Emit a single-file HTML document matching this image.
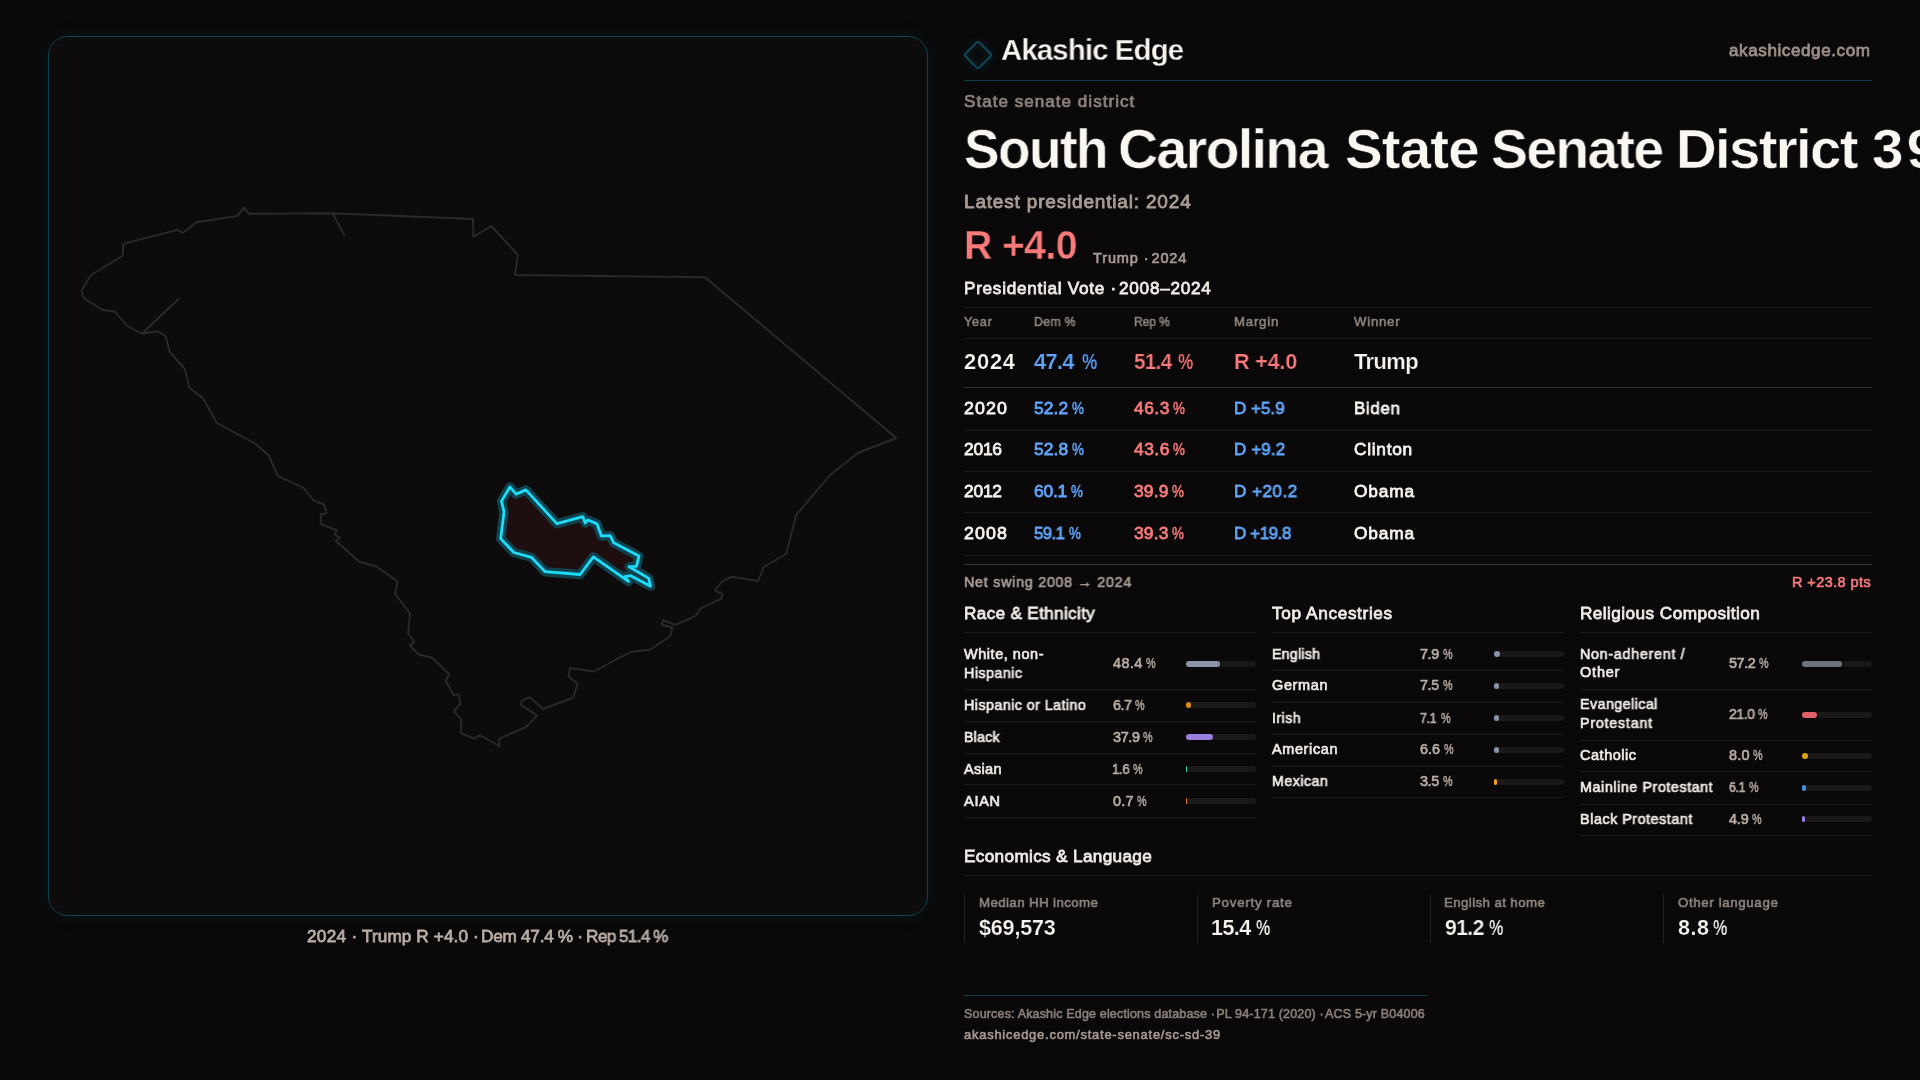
<!DOCTYPE html>
<html lang="en"><head><meta charset="utf-8"><title>South Carolina State Senate District 39 — Akashic Edge</title>
<style>
html,body{margin:0;padding:0;background:#0a0809;}
body{width:1920px;height:1080px;position:relative;overflow:hidden;font-family:"Liberation Sans", sans-serif;color:#f7f3ee;-webkit-font-smoothing:antialiased;}
.t{position:absolute;white-space:nowrap;line-height:1;margin:0;padding:0;transform-origin:0 0;will-change:transform;}
.l{position:absolute;}
.tr{position:absolute;width:70px;height:6px;border-radius:3px;background:#1b1819;}
.tr i{display:block;height:6px;border-radius:3px;}
#map{position:absolute;left:48px;top:36px;width:878px;height:878px;border:1px solid #0f4350;border-radius:20px;background:#0d0b0c;box-shadow:0 0 20px rgba(34,211,238,.085);}
#mapsvg{position:absolute;left:0;top:0;}
#logo{position:absolute;left:963.6px;top:40.7px;width:28px;height:28px;}
</style></head><body>
<div id="map"></div>
<svg id="mapsvg" width="960" height="960" viewBox="0 0 960 960">
<polygon points="244.5,207.5 248.8,213.8 332.5,213.2 473.0,219.0 473.5,236.8 491.5,226.0 517.8,255.0 515.0,275.0 705.0,277.2 896.2,438.0 858.0,453.0 830.0,475.0 796.2,515.0 786.2,553.8 763.8,567.0 758.0,581.0 731.2,576.8 722.0,581.5 715.0,590.5 722.5,594.2 721.2,598.8 701.2,608.0 695.8,615.8 675.5,624.8 663.0,620.0 661.5,624.8 672.3,627.3 670.5,636.0 650.3,649.5 630.5,652.0 593.7,671.5 570.0,668.0 568.5,676.6 577.5,683.4 573.3,697.7 543.1,709.0 529.8,697.2 521.9,700.6 520.6,704.8 537.1,715.4 526.2,726.9 499.1,738.8 499.4,746.2 479.8,735.0 474.0,738.5 460.9,733.1 461.2,719.4 453.8,711.0 460.5,703.8 458.6,694.4 453.5,695.0 445.7,680.6 449.2,674.2 432.5,658.0 418.8,654.5 410.0,645.5 414.2,642.0 408.0,633.0 410.0,613.8 395.0,593.8 397.8,581.5 376.2,566.5 358.8,561.5 335.8,540.8 340.0,538.0 334.5,534.0 336.8,530.5 320.8,524.0 320.8,514.5 326.8,513.0 323.8,504.5 313.8,500.5 303.2,487.5 278.0,476.2 268.8,455.5 255.8,444.0 217.0,423.0 202.8,398.0 189.5,388.0 184.8,369.0 169.5,351.5 165.8,336.5 158.0,331.2 142.0,333.5 127.0,326.0 114.8,311.5 102.5,310.0 83.5,298.0 81.5,290.5 90.5,275.5 122.8,255.5 123.2,243.8 177.5,229.8 182.8,233.0 196.5,222.2 237.0,216.0" fill="none" stroke="#2d292a" stroke-width="1.9" stroke-linejoin="round"/>
<polyline points="332.5,213.2 344.5,235.2" fill="none" stroke="#2d292a" stroke-width="1.9" stroke-linecap="round"/>
<polyline points="142.0,333.5 178.2,299.2" fill="none" stroke="#2d292a" stroke-width="1.9" stroke-linecap="round"/>
<polygon points="509.9,486.9 516.1,494.1 525.9,489.9 556.9,523.6 582.8,516.7 585.2,523.0 587.9,520.0 597.0,523.9 601.5,536.0 610.2,535.6 613.8,542.8 638.9,556.1 636.5,566.3 629.2,566.7 648.7,578.4 650.6,586.2 630.7,575.7 624.9,576.6 628.5,581.4 593.4,556.9 580.1,574.5 545.2,571.7 531.4,557.3 513.9,552.5 500.7,538.6 504.0,512.1 501.5,501.1" fill="#1f0e10" stroke="#10434e" stroke-width="9.4" stroke-linejoin="round"/>
<polygon points="509.9,486.9 516.1,494.1 525.9,489.9 556.9,523.6 582.8,516.7 585.2,523.0 587.9,520.0 597.0,523.9 601.5,536.0 610.2,535.6 613.8,542.8 638.9,556.1 636.5,566.3 629.2,566.7 648.7,578.4 650.6,586.2 630.7,575.7 624.9,576.6 628.5,581.4 593.4,556.9 580.1,574.5 545.2,571.7 531.4,557.3 513.9,552.5 500.7,538.6 504.0,512.1 501.5,501.1" fill="none" stroke="#1edcfb" stroke-width="2.8" stroke-linejoin="round"/>
</svg>
<svg id="logo" viewBox="0 0 28 28" style="overflow:visible;filter:drop-shadow(0 0 4px rgba(34,211,238,.25))"><rect x="4.2" y="4.2" width="19.6" height="19.6" rx="2.5" transform="rotate(45 14 14)" fill="none" stroke="#0e4a57" stroke-width="2"/></svg>
<div class="l" style="left:964px;top:80px;width:908px;height:1px;background:#0e3f4b"></div>
<div class="l" style="left:964px;top:307px;width:908px;height:1px;background:#1d1a1b"></div>
<div class="l" style="left:964px;top:338px;width:908px;height:1px;background:#1d1a1b"></div>
<div class="l" style="left:964px;top:387px;width:908px;height:1px;background:#322e2f"></div>
<div class="l" style="left:964px;top:430px;width:908px;height:1px;background:#1d1a1b"></div>
<div class="l" style="left:964px;top:471px;width:908px;height:1px;background:#1d1a1b"></div>
<div class="l" style="left:964px;top:512px;width:908px;height:1px;background:#1d1a1b"></div>
<div class="l" style="left:964px;top:555px;width:908px;height:1px;background:#1d1a1b"></div>
<div class="l" style="left:964px;top:564px;width:908px;height:1px;background:#3a3637"></div>
<div class="l" style="left:964px;top:632px;width:292px;height:1px;background:#1d1a1b"></div>
<div class="l" style="left:1272px;top:632px;width:292px;height:1px;background:#1d1a1b"></div>
<div class="l" style="left:1580px;top:632px;width:292px;height:1px;background:#1d1a1b"></div>
<div class="l" style="left:964px;top:689px;width:292px;height:1px;background:#1d1a1b"></div>
<div class="l" style="left:964px;top:721px;width:292px;height:1px;background:#1d1a1b"></div>
<div class="l" style="left:964px;top:753px;width:292px;height:1px;background:#1d1a1b"></div>
<div class="l" style="left:964px;top:784px;width:292px;height:1px;background:#1d1a1b"></div>
<div class="l" style="left:964px;top:817px;width:292px;height:1px;background:#1d1a1b"></div>
<div class="l" style="left:1272px;top:670px;width:292px;height:1px;background:#1d1a1b"></div>
<div class="l" style="left:1272px;top:702px;width:292px;height:1px;background:#1d1a1b"></div>
<div class="l" style="left:1272px;top:734px;width:292px;height:1px;background:#1d1a1b"></div>
<div class="l" style="left:1272px;top:766px;width:292px;height:1px;background:#1d1a1b"></div>
<div class="l" style="left:1272px;top:797px;width:292px;height:1px;background:#1d1a1b"></div>
<div class="l" style="left:1580px;top:689px;width:292px;height:1px;background:#1d1a1b"></div>
<div class="l" style="left:1580px;top:740px;width:292px;height:1px;background:#1d1a1b"></div>
<div class="l" style="left:1580px;top:771px;width:292px;height:1px;background:#1d1a1b"></div>
<div class="l" style="left:1580px;top:804px;width:292px;height:1px;background:#1d1a1b"></div>
<div class="l" style="left:1580px;top:835px;width:292px;height:1px;background:#1d1a1b"></div>
<div class="l" style="left:964px;top:875px;width:908px;height:1px;background:#1d1a1b"></div>
<div class="l" style="left:964px;top:894px;width:1px;height:49px;background:#242122"></div>
<div class="l" style="left:1197px;top:894px;width:1px;height:49px;background:#242122"></div>
<div class="l" style="left:1430px;top:894px;width:1px;height:49px;background:#242122"></div>
<div class="l" style="left:1663px;top:894px;width:1px;height:49px;background:#242122"></div>
<div class="l" style="left:964px;top:995px;width:463px;height:1px;background:#0e3f4b"></div>
<div class="tr" style="left:1186px;top:661px"><i style="width:33.9px;background:#8b93a7"></i></div>
<div class="tr" style="left:1186px;top:702px"><i style="width:4.7px;background:#d98a1a"></i></div>
<div class="tr" style="left:1186px;top:734px"><i style="width:26.5px;background:#9b7fe0"></i></div>
<div class="tr" style="left:1186px;top:766px"><i style="width:1.1px;background:#34d399"></i></div>
<div class="tr" style="left:1186px;top:798px"><i style="width:0.5px;background:#e07f1c"></i></div>
<div class="tr" style="left:1494px;top:651px"><i style="width:5.5px;background:#8b93a7"></i></div>
<div class="tr" style="left:1494px;top:683px"><i style="width:5.2px;background:#8b93a7"></i></div>
<div class="tr" style="left:1494px;top:715px"><i style="width:5.0px;background:#8b93a7"></i></div>
<div class="tr" style="left:1494px;top:747px"><i style="width:4.6px;background:#8b93a7"></i></div>
<div class="tr" style="left:1494px;top:779px"><i style="width:2.5px;background:#f59e0b"></i></div>
<div class="tr" style="left:1802px;top:661px"><i style="width:40.0px;background:#6b7280"></i></div>
<div class="tr" style="left:1802px;top:712px"><i style="width:14.7px;background:#e0606a"></i></div>
<div class="tr" style="left:1802px;top:753px"><i style="width:5.6px;background:#e0a520"></i></div>
<div class="tr" style="left:1802px;top:785px"><i style="width:4.3px;background:#4a90e2"></i></div>
<div class="tr" style="left:1802px;top:816px"><i style="width:3.4px;background:#9b7fe0"></i></div>
<div class="t" id="t0" style="left:1000.55px;top:35.34px;font-size:29.6px;color:#f7f3ee;font-weight:700;letter-spacing:-0.888px;transform:scaleX(0.9932);-webkit-text-stroke:0.3px #0a0809;">Akashic Edge</div>
<div class="t" id="t1" style="left:1729.38px;top:42.22px;font-size:17.1px;color:#9c8f88;font-weight:400;letter-spacing:0.567px;-webkit-text-stroke:0.77px #9c8f88;">akashicedge.com</div>
<div class="t" id="t2" style="left:964.00px;top:93.54px;font-size:15.9px;color:#8c807a;font-weight:400;letter-spacing:0.954px;transform:scaleX(1.0734);-webkit-text-stroke:0.72px #8c807a;">State senate district</div>
<h1 style="margin:0;font:inherit">
<span class="t" id="t3" style="left:963.79px;top:120.56px;font-size:56.4px;color:#faf7f3;font-weight:700;letter-spacing:-1.692px;transform:scaleX(0.9442);-webkit-text-stroke:0.56px #0a0809;">South</span>
<span class="t" id="t4" style="left:1117.86px;top:120.56px;font-size:56.4px;color:#faf7f3;font-weight:700;letter-spacing:-1.692px;transform:scaleX(0.9842);-webkit-text-stroke:0.56px #0a0809;">Carolina</span>
<span class="t" id="t5" style="left:1344.52px;top:120.56px;font-size:56.4px;color:#faf7f3;font-weight:700;letter-spacing:-0.793px;-webkit-text-stroke:0.56px #0a0809;">State</span>
<span class="t" id="t6" style="left:1491.24px;top:120.56px;font-size:56.4px;color:#faf7f3;font-weight:700;letter-spacing:-1.692px;transform:scaleX(0.9813);-webkit-text-stroke:0.56px #0a0809;">Senate</span>
<span class="t" id="t7" style="left:1676.32px;top:120.56px;font-size:56.4px;color:#faf7f3;font-weight:700;letter-spacing:-1.678px;-webkit-text-stroke:0.56px #0a0809;">District</span>
<span class="t" id="t8" style="left:1871.52px;top:120.56px;font-size:56.4px;color:#faf7f3;font-weight:700;letter-spacing:3.384px;-webkit-text-stroke:0.56px #0a0809;">39</span>
</h1>
<div class="t" id="t9" style="left:964.00px;top:192.22px;font-size:19.0px;color:#a89b94;font-weight:400;letter-spacing:0.820px;-webkit-text-stroke:0.85px #a89b94;">Latest presidential: 2024</div>
<div class="t" id="t10" style="left:964.00px;top:225.34px;font-size:40.0px;color:#f87a7a;font-weight:700;letter-spacing:-0.664px;transform:scaleX(0.9807);-webkit-text-stroke:0.4px #0a0809;">R +4.0</div>
<div class="t" id="t11" style="left:1093.33px;top:251.31px;font-size:14.4px;color:#a89b94;font-weight:400;letter-spacing:0.864px;transform:scaleX(1.0086);-webkit-text-stroke:0.65px #a89b94;">Trump · 2024</div>
<div class="t" id="t12" style="left:964.00px;top:280.04px;font-size:17.2px;color:#f0ebe6;font-weight:400;letter-spacing:0.708px;-webkit-text-stroke:0.77px #f0ebe6;">Presidential Vote · 2008–2024</div>
<div class="t" id="t13" style="left:964.00px;top:316.30px;font-size:12.4px;color:#8c807a;font-weight:400;letter-spacing:0.744px;transform:scaleX(1.0211);-webkit-text-stroke:0.56px #8c807a;">Year</div>
<div class="t" id="t14" style="left:1034.00px;top:316.30px;font-size:12.4px;color:#8c807a;font-weight:400;letter-spacing:0.409px;transform:scaleX(0.9831);-webkit-text-stroke:0.56px #8c807a;">Dem %</div>
<div class="t" id="t15" style="left:1134.00px;top:316.30px;font-size:12.4px;color:#8c807a;font-weight:400;letter-spacing:-0.110px;word-spacing:-0.293px;transform:scaleX(0.9804);-webkit-text-stroke:0.56px #8c807a;">Rep %</div>
<div class="t" id="t16" style="left:1234.00px;top:316.30px;font-size:12.4px;color:#8c807a;font-weight:400;letter-spacing:0.744px;transform:scaleX(1.0647);-webkit-text-stroke:0.56px #8c807a;">Margin</div>
<div class="t" id="t17" style="left:1354.00px;top:316.30px;font-size:12.4px;color:#8c807a;font-weight:400;letter-spacing:0.744px;transform:scaleX(1.0598);-webkit-text-stroke:0.56px #8c807a;">Winner</div>
<div class="t" id="t18" style="left:964.00px;top:350.76px;font-size:21.9px;color:#f7f3ee;font-weight:700;letter-spacing:0.765px;-webkit-text-stroke:0.22px #0a0809;">2024</div>
<div class="t" id="t19" style="left:1034.00px;top:350.76px;font-size:21.9px;color:#60a5fa;font-weight:700;letter-spacing:-0.657px;transform:scaleX(0.9940);-webkit-text-stroke:0.22px #0a0809;">47.4</div>
<div class="t" id="t20" style="left:1082.17px;top:350.76px;font-size:21.9px;color:#60a5fa;font-weight:700;transform:scaleX(0.7849);-webkit-text-stroke:0.22px #0a0809;">%</div>
<div class="t" id="t21" style="left:1134.00px;top:350.76px;font-size:21.9px;color:#f87a7a;font-weight:700;letter-spacing:-0.657px;transform:scaleX(0.9386);-webkit-text-stroke:0.22px #0a0809;">51.4</div>
<div class="t" id="t22" style="left:1177.67px;top:350.76px;font-size:21.9px;color:#f87a7a;font-weight:700;transform:scaleX(0.7849);-webkit-text-stroke:0.22px #0a0809;">%</div>
<div class="t" id="t23" style="left:1234.00px;top:350.76px;font-size:21.9px;color:#f87a7a;font-weight:700;letter-spacing:-0.142px;transform:scaleX(0.9827);-webkit-text-stroke:0.22px #0a0809;">R +4.0</div>
<div class="t" id="t24" style="left:1354.00px;top:350.76px;font-size:21.9px;color:#f7f3ee;font-weight:700;letter-spacing:-0.575px;-webkit-text-stroke:0.22px #0a0809;">Trump</div>
<div class="t" id="t25" style="left:964.00px;top:400.24px;font-size:17.2px;color:#f7f3ee;font-weight:400;letter-spacing:1.032px;transform:scaleX(1.0375);-webkit-text-stroke:0.77px #f7f3ee;">2020</div>
<div class="t" id="t26" style="left:1034.00px;top:400.24px;font-size:17.2px;color:#60a5fa;font-weight:400;letter-spacing:0.076px;transform:scaleX(1.0115);-webkit-text-stroke:0.77px #60a5fa;">52.2</div>
<div class="t" id="t27" style="left:1072.14px;top:400.24px;font-size:17.2px;color:#60a5fa;font-weight:400;transform:scaleX(0.7771);-webkit-text-stroke:0.52px #60a5fa;">%</div>
<div class="t" id="t28" style="left:1134.00px;top:400.24px;font-size:17.2px;color:#f87a7a;font-weight:400;letter-spacing:0.509px;transform:scaleX(1.0111);-webkit-text-stroke:0.77px #f87a7a;">46.3</div>
<div class="t" id="t29" style="left:1173.44px;top:400.24px;font-size:17.2px;color:#f87a7a;font-weight:400;transform:scaleX(0.7771);-webkit-text-stroke:0.52px #f87a7a;">%</div>
<div class="t" id="t30" style="left:1234.00px;top:400.24px;font-size:17.2px;color:#60a5fa;font-weight:400;letter-spacing:0.014px;transform:scaleX(0.9879);-webkit-text-stroke:0.77px #60a5fa;">D +5.9</div>
<div class="t" id="t31" style="left:1354.00px;top:400.24px;font-size:17.2px;color:#f7f3ee;font-weight:400;letter-spacing:0.632px;transform:scaleX(0.9867);-webkit-text-stroke:0.77px #f7f3ee;">Biden</div>
<div class="t" id="t32" style="left:964.00px;top:441.04px;font-size:17.2px;color:#f7f3ee;font-weight:400;letter-spacing:-0.216px;transform:scaleX(1.0103);-webkit-text-stroke:0.77px #f7f3ee;">2016</div>
<div class="t" id="t33" style="left:1034.00px;top:441.04px;font-size:17.2px;color:#60a5fa;font-weight:400;letter-spacing:0.076px;transform:scaleX(1.0115);-webkit-text-stroke:0.77px #60a5fa;">52.8</div>
<div class="t" id="t34" style="left:1072.14px;top:441.04px;font-size:17.2px;color:#60a5fa;font-weight:400;transform:scaleX(0.7771);-webkit-text-stroke:0.52px #60a5fa;">%</div>
<div class="t" id="t35" style="left:1134.00px;top:441.04px;font-size:17.2px;color:#f87a7a;font-weight:400;letter-spacing:0.509px;transform:scaleX(1.0111);-webkit-text-stroke:0.77px #f87a7a;">43.6</div>
<div class="t" id="t36" style="left:1173.44px;top:441.04px;font-size:17.2px;color:#f87a7a;font-weight:400;transform:scaleX(0.7771);-webkit-text-stroke:0.52px #f87a7a;">%</div>
<div class="t" id="t37" style="left:1234.00px;top:441.04px;font-size:17.2px;color:#60a5fa;font-weight:400;letter-spacing:0.114px;transform:scaleX(0.9881);-webkit-text-stroke:0.77px #60a5fa;">D +9.2</div>
<div class="t" id="t38" style="left:1354.00px;top:441.04px;font-size:17.2px;color:#f7f3ee;font-weight:400;letter-spacing:0.715px;transform:scaleX(1.0067);-webkit-text-stroke:0.77px #f7f3ee;">Clinton</div>
<div class="t" id="t39" style="left:964.00px;top:483.14px;font-size:17.2px;color:#f7f3ee;font-weight:400;letter-spacing:-0.216px;transform:scaleX(1.0103);-webkit-text-stroke:0.77px #f7f3ee;">2012</div>
<div class="t" id="t40" style="left:1034.00px;top:483.14px;font-size:17.2px;color:#60a5fa;font-weight:400;letter-spacing:-0.191px;transform:scaleX(1.0118);-webkit-text-stroke:0.77px #60a5fa;">60.1</div>
<div class="t" id="t41" style="left:1071.34px;top:483.14px;font-size:17.2px;color:#60a5fa;font-weight:400;transform:scaleX(0.7771);-webkit-text-stroke:0.52px #60a5fa;">%</div>
<div class="t" id="t42" style="left:1134.00px;top:483.14px;font-size:17.2px;color:#f87a7a;font-weight:400;letter-spacing:0.176px;transform:scaleX(1.0114);-webkit-text-stroke:0.77px #f87a7a;">39.9</div>
<div class="t" id="t43" style="left:1172.44px;top:483.14px;font-size:17.2px;color:#f87a7a;font-weight:400;transform:scaleX(0.7771);-webkit-text-stroke:0.52px #f87a7a;">%</div>
<div class="t" id="t44" style="left:1234.00px;top:483.14px;font-size:17.2px;color:#60a5fa;font-weight:400;letter-spacing:0.519px;transform:scaleX(0.9903);-webkit-text-stroke:0.77px #60a5fa;">D +20.2</div>
<div class="t" id="t45" style="left:1354.00px;top:483.14px;font-size:17.2px;color:#f7f3ee;font-weight:400;letter-spacing:0.856px;transform:scaleX(1.0064);-webkit-text-stroke:0.77px #f7f3ee;">Obama</div>
<div class="t" id="t46" style="left:964.00px;top:524.64px;font-size:17.2px;color:#f7f3ee;font-weight:400;letter-spacing:1.032px;transform:scaleX(1.0375);-webkit-text-stroke:0.77px #f7f3ee;">2008</div>
<div class="t" id="t47" style="left:1034.00px;top:524.64px;font-size:17.2px;color:#60a5fa;font-weight:400;letter-spacing:-0.516px;transform:scaleX(0.9735);-webkit-text-stroke:0.77px #60a5fa;">59.1</div>
<div class="t" id="t48" style="left:1069.14px;top:524.64px;font-size:17.2px;color:#60a5fa;font-weight:400;transform:scaleX(0.7771);-webkit-text-stroke:0.52px #60a5fa;">%</div>
<div class="t" id="t49" style="left:1134.00px;top:524.64px;font-size:17.2px;color:#f87a7a;font-weight:400;letter-spacing:0.176px;transform:scaleX(1.0114);-webkit-text-stroke:0.77px #f87a7a;">39.3</div>
<div class="t" id="t50" style="left:1172.44px;top:524.64px;font-size:17.2px;color:#f87a7a;font-weight:400;transform:scaleX(0.7771);-webkit-text-stroke:0.52px #f87a7a;">%</div>
<div class="t" id="t51" style="left:1234.00px;top:524.64px;font-size:17.2px;color:#60a5fa;font-weight:400;letter-spacing:-0.448px;transform:scaleX(0.9894);-webkit-text-stroke:0.77px #60a5fa;">D +19.8</div>
<div class="t" id="t52" style="left:1354.00px;top:524.64px;font-size:17.2px;color:#f7f3ee;font-weight:400;letter-spacing:0.856px;transform:scaleX(1.0064);-webkit-text-stroke:0.77px #f7f3ee;">Obama</div>
<div class="t" id="t53" style="left:964.00px;top:575.01px;font-size:14.4px;color:#a89b94;font-weight:400;letter-spacing:0.723px;transform:scaleX(0.9960);-webkit-text-stroke:0.65px #a89b94;">Net swing 2008 → 2024</div>
<div class="t" id="t54" style="left:1791.73px;top:575.01px;font-size:14.4px;color:#f87a7a;font-weight:400;letter-spacing:0.465px;-webkit-text-stroke:0.65px #f87a7a;">R +23.8 pts</div>
<div class="t" id="t55" style="left:964.00px;top:604.84px;font-size:17.2px;color:#f0ebe6;font-weight:400;letter-spacing:0.355px;transform:scaleX(0.9953);-webkit-text-stroke:0.77px #f0ebe6;">Race &amp; Ethnicity</div>
<div class="t" id="t56" style="left:1272.00px;top:604.84px;font-size:17.2px;color:#f0ebe6;font-weight:400;letter-spacing:0.646px;-webkit-text-stroke:0.77px #f0ebe6;">Top Ancestries</div>
<div class="t" id="t57" style="left:1580.00px;top:604.84px;font-size:17.2px;color:#f0ebe6;font-weight:400;letter-spacing:0.439px;-webkit-text-stroke:0.77px #f0ebe6;">Religious Composition</div>
<div class="t" id="t58" style="left:964.00px;top:646.81px;font-size:14.4px;color:#f0ebe6;font-weight:400;letter-spacing:0.556px;transform:scaleX(1.0041);-webkit-text-stroke:0.65px #f0ebe6;">White, non-</div>
<div class="t" id="t59" style="left:964.00px;top:665.51px;font-size:14.4px;color:#f0ebe6;font-weight:400;letter-spacing:0.508px;transform:scaleX(0.9885);-webkit-text-stroke:0.65px #f0ebe6;">Hispanic</div>
<div class="t" id="t60" style="left:964.00px;top:697.71px;font-size:14.4px;color:#f0ebe6;font-weight:400;letter-spacing:0.433px;transform:scaleX(0.9945);-webkit-text-stroke:0.65px #f0ebe6;">Hispanic or Latino</div>
<div class="t" id="t61" style="left:964.00px;top:729.71px;font-size:14.4px;color:#f0ebe6;font-weight:400;letter-spacing:0.264px;transform:scaleX(0.9819);-webkit-text-stroke:0.65px #f0ebe6;">Black</div>
<div class="t" id="t62" style="left:964.00px;top:761.71px;font-size:14.4px;color:#f0ebe6;font-weight:400;letter-spacing:0.289px;transform:scaleX(1.0087);-webkit-text-stroke:0.65px #f0ebe6;">Asian</div>
<div class="t" id="t63" style="left:964.00px;top:793.51px;font-size:14.4px;color:#f0ebe6;font-weight:400;letter-spacing:0.718px;transform:scaleX(1.0091);-webkit-text-stroke:0.65px #f0ebe6;">AIAN</div>
<div class="t" id="t64" style="left:1112.53px;top:655.51px;font-size:14.4px;color:#b8aca4;font-weight:400;letter-spacing:0.440px;-webkit-text-stroke:0.65px #b8aca4;">48.4</div>
<div class="t" id="t65" style="left:1145.71px;top:655.51px;font-size:14.4px;color:#b8aca4;font-weight:400;transform:scaleX(0.7483);-webkit-text-stroke:0.43px #b8aca4;">%</div>
<div class="t" id="t66" style="left:1112.52px;top:697.71px;font-size:14.4px;color:#b8aca4;font-weight:400;letter-spacing:-0.432px;transform:scaleX(0.9842);-webkit-text-stroke:0.65px #b8aca4;">6.7</div>
<div class="t" id="t67" style="left:1135.21px;top:697.71px;font-size:14.4px;color:#b8aca4;font-weight:400;transform:scaleX(0.7483);-webkit-text-stroke:0.43px #b8aca4;">%</div>
<div class="t" id="t68" style="left:1112.53px;top:729.71px;font-size:14.4px;color:#b8aca4;font-weight:400;letter-spacing:-0.327px;-webkit-text-stroke:0.65px #b8aca4;">37.9</div>
<div class="t" id="t69" style="left:1143.41px;top:729.71px;font-size:14.4px;color:#b8aca4;font-weight:400;transform:scaleX(0.7483);-webkit-text-stroke:0.43px #b8aca4;">%</div>
<div class="t" id="t70" style="left:1111.58px;top:761.71px;font-size:14.4px;color:#b8aca4;font-weight:400;letter-spacing:-0.432px;transform:scaleX(0.9195);-webkit-text-stroke:0.65px #b8aca4;">1.6</div>
<div class="t" id="t71" style="left:1133.01px;top:761.71px;font-size:14.4px;color:#b8aca4;font-weight:400;transform:scaleX(0.7483);-webkit-text-stroke:0.43px #b8aca4;">%</div>
<div class="t" id="t72" style="left:1112.53px;top:793.51px;font-size:14.4px;color:#b8aca4;font-weight:400;letter-spacing:0.212px;-webkit-text-stroke:0.65px #b8aca4;">0.7</div>
<div class="t" id="t73" style="left:1136.81px;top:793.51px;font-size:14.4px;color:#b8aca4;font-weight:400;transform:scaleX(0.7483);-webkit-text-stroke:0.43px #b8aca4;">%</div>
<div class="t" id="t74" style="left:1272.00px;top:646.61px;font-size:14.4px;color:#f0ebe6;font-weight:400;letter-spacing:0.259px;transform:scaleX(0.9862);-webkit-text-stroke:0.65px #f0ebe6;">English</div>
<div class="t" id="t75" style="left:1272.00px;top:678.41px;font-size:14.4px;color:#f0ebe6;font-weight:400;letter-spacing:0.634px;transform:scaleX(1.0059);-webkit-text-stroke:0.65px #f0ebe6;">German</div>
<div class="t" id="t76" style="left:1272.00px;top:710.61px;font-size:14.4px;color:#f0ebe6;font-weight:400;letter-spacing:0.542px;transform:scaleX(0.9773);-webkit-text-stroke:0.65px #f0ebe6;">Irish</div>
<div class="t" id="t77" style="left:1272.00px;top:742.41px;font-size:14.4px;color:#f0ebe6;font-weight:400;letter-spacing:0.625px;transform:scaleX(1.0050);-webkit-text-stroke:0.65px #f0ebe6;">American</div>
<div class="t" id="t78" style="left:1272.00px;top:774.41px;font-size:14.4px;color:#f0ebe6;font-weight:400;letter-spacing:0.495px;transform:scaleX(0.9881);-webkit-text-stroke:0.65px #f0ebe6;">Mexican</div>
<div class="t" id="t79" style="left:1420.33px;top:646.61px;font-size:14.4px;color:#b8aca4;font-weight:400;letter-spacing:-0.388px;-webkit-text-stroke:0.65px #b8aca4;">7.9</div>
<div class="t" id="t80" style="left:1443.41px;top:646.61px;font-size:14.4px;color:#b8aca4;font-weight:400;transform:scaleX(0.7483);-webkit-text-stroke:0.43px #b8aca4;">%</div>
<div class="t" id="t81" style="left:1420.32px;top:678.41px;font-size:14.4px;color:#b8aca4;font-weight:400;letter-spacing:-0.432px;transform:scaleX(0.9893);-webkit-text-stroke:0.65px #b8aca4;">7.5</div>
<div class="t" id="t82" style="left:1443.11px;top:678.41px;font-size:14.4px;color:#b8aca4;font-weight:400;transform:scaleX(0.7483);-webkit-text-stroke:0.43px #b8aca4;">%</div>
<div class="t" id="t83" style="left:1420.28px;top:710.61px;font-size:14.4px;color:#b8aca4;font-weight:400;letter-spacing:-0.432px;transform:scaleX(0.8579);-webkit-text-stroke:0.65px #b8aca4;">7.1</div>
<div class="t" id="t84" style="left:1440.51px;top:710.61px;font-size:14.4px;color:#b8aca4;font-weight:400;transform:scaleX(0.7483);-webkit-text-stroke:0.43px #b8aca4;">%</div>
<div class="t" id="t85" style="left:1420.33px;top:742.41px;font-size:14.4px;color:#b8aca4;font-weight:400;letter-spacing:-0.038px;-webkit-text-stroke:0.65px #b8aca4;">6.6</div>
<div class="t" id="t86" style="left:1444.11px;top:742.41px;font-size:14.4px;color:#b8aca4;font-weight:400;transform:scaleX(0.7483);-webkit-text-stroke:0.43px #b8aca4;">%</div>
<div class="t" id="t87" style="left:1420.33px;top:774.41px;font-size:14.4px;color:#b8aca4;font-weight:400;letter-spacing:-0.388px;-webkit-text-stroke:0.65px #b8aca4;">3.5</div>
<div class="t" id="t88" style="left:1443.41px;top:774.41px;font-size:14.4px;color:#b8aca4;font-weight:400;transform:scaleX(0.7483);-webkit-text-stroke:0.43px #b8aca4;">%</div>
<div class="t" id="t89" style="left:1580.00px;top:646.51px;font-size:14.4px;color:#f0ebe6;font-weight:400;letter-spacing:0.720px;transform:scaleX(0.9936);-webkit-text-stroke:0.65px #f0ebe6;">Non-adherent /</div>
<div class="t" id="t90" style="left:1580.00px;top:665.01px;font-size:14.4px;color:#f0ebe6;font-weight:400;letter-spacing:0.784px;transform:scaleX(1.0082);-webkit-text-stroke:0.65px #f0ebe6;">Other</div>
<div class="t" id="t91" style="left:1580.00px;top:697.41px;font-size:14.4px;color:#f0ebe6;font-weight:400;letter-spacing:0.443px;transform:scaleX(0.9914);-webkit-text-stroke:0.65px #f0ebe6;">Evangelical</div>
<div class="t" id="t92" style="left:1580.00px;top:716.41px;font-size:14.4px;color:#f0ebe6;font-weight:400;letter-spacing:0.793px;transform:scaleX(0.9908);-webkit-text-stroke:0.65px #f0ebe6;">Protestant</div>
<div class="t" id="t93" style="left:1580.00px;top:748.31px;font-size:14.4px;color:#f0ebe6;font-weight:400;letter-spacing:0.534px;transform:scaleX(1.0058);-webkit-text-stroke:0.65px #f0ebe6;">Catholic</div>
<div class="t" id="t94" style="left:1580.00px;top:780.31px;font-size:14.4px;color:#f0ebe6;font-weight:400;letter-spacing:0.566px;transform:scaleX(0.9950);-webkit-text-stroke:0.65px #f0ebe6;">Mainline Protestant</div>
<div class="t" id="t95" style="left:1580.00px;top:811.51px;font-size:14.4px;color:#f0ebe6;font-weight:400;letter-spacing:0.548px;transform:scaleX(0.9940);-webkit-text-stroke:0.65px #f0ebe6;">Black Protestant</div>
<div class="t" id="t96" style="left:1728.61px;top:655.71px;font-size:14.4px;color:#b8aca4;font-weight:400;letter-spacing:-0.432px;-webkit-text-stroke:0.65px #b8aca4;">57.2</div>
<div class="t" id="t97" style="left:1759.13px;top:655.71px;font-size:14.4px;color:#b8aca4;font-weight:400;transform:scaleX(0.7483);-webkit-text-stroke:0.43px #b8aca4;">%</div>
<div class="t" id="t98" style="left:1728.61px;top:706.61px;font-size:14.4px;color:#b8aca4;font-weight:400;letter-spacing:-0.432px;transform:scaleX(0.9726);-webkit-text-stroke:0.65px #b8aca4;">21.0</div>
<div class="t" id="t99" style="left:1758.44px;top:706.61px;font-size:14.4px;color:#b8aca4;font-weight:400;transform:scaleX(0.7483);-webkit-text-stroke:0.43px #b8aca4;">%</div>
<div class="t" id="t100" style="left:1728.61px;top:748.31px;font-size:14.4px;color:#b8aca4;font-weight:400;letter-spacing:0.202px;-webkit-text-stroke:0.65px #b8aca4;">8.0</div>
<div class="t" id="t101" style="left:1752.88px;top:748.31px;font-size:14.4px;color:#b8aca4;font-weight:400;transform:scaleX(0.7483);-webkit-text-stroke:0.43px #b8aca4;">%</div>
<div class="t" id="t102" style="left:1728.57px;top:780.31px;font-size:14.4px;color:#b8aca4;font-weight:400;letter-spacing:-0.432px;transform:scaleX(0.8536);-webkit-text-stroke:0.65px #b8aca4;">6.1</div>
<div class="t" id="t103" style="left:1748.72px;top:780.31px;font-size:14.4px;color:#b8aca4;font-weight:400;transform:scaleX(0.7483);-webkit-text-stroke:0.43px #b8aca4;">%</div>
<div class="t" id="t104" style="left:1728.61px;top:811.51px;font-size:14.4px;color:#b8aca4;font-weight:400;letter-spacing:-0.145px;-webkit-text-stroke:0.65px #b8aca4;">4.9</div>
<div class="t" id="t105" style="left:1752.19px;top:811.51px;font-size:14.4px;color:#b8aca4;font-weight:400;transform:scaleX(0.7483);-webkit-text-stroke:0.43px #b8aca4;">%</div>
<div class="t" id="t106" style="left:964.00px;top:848.14px;font-size:17.2px;color:#f0ebe6;font-weight:400;letter-spacing:0.329px;-webkit-text-stroke:0.77px #f0ebe6;">Economics &amp; Language</div>
<div class="t" id="t107" style="left:978.70px;top:895.64px;font-size:13.3px;color:#8c807a;font-weight:400;letter-spacing:0.388px;-webkit-text-stroke:0.6px #8c807a;">Median HH income</div>
<div class="t" id="t108" style="left:1211.70px;top:895.64px;font-size:13.3px;color:#8c807a;font-weight:400;letter-spacing:0.746px;-webkit-text-stroke:0.6px #8c807a;">Poverty rate</div>
<div class="t" id="t109" style="left:1444.30px;top:895.64px;font-size:13.3px;color:#8c807a;font-weight:400;letter-spacing:0.389px;-webkit-text-stroke:0.6px #8c807a;">English at home</div>
<div class="t" id="t110" style="left:1678.10px;top:895.64px;font-size:13.3px;color:#8c807a;font-weight:400;letter-spacing:0.625px;-webkit-text-stroke:0.6px #8c807a;">Other language</div>
<div class="t" id="t111" style="left:979.29px;top:918.00px;font-size:21.5px;color:#f7f3ee;font-weight:700;letter-spacing:-0.158px;-webkit-text-stroke:0.21px #0a0809;">$69,573</div>
<div class="t" id="t112" style="left:1211.30px;top:918.00px;font-size:21.5px;color:#f7f3ee;font-weight:700;letter-spacing:-0.524px;-webkit-text-stroke:0.21px #0a0809;">15.4</div>
<div class="t" id="t113" style="left:1256.15px;top:918.00px;font-size:21.5px;color:#f7f3ee;font-weight:700;transform:scaleX(0.7488);-webkit-text-stroke:0.21px #0a0809;">%</div>
<div class="t" id="t114" style="left:1444.90px;top:918.00px;font-size:21.5px;color:#f7f3ee;font-weight:700;letter-spacing:-0.645px;transform:scaleX(0.9865);-webkit-text-stroke:0.21px #0a0809;">91.2</div>
<div class="t" id="t115" style="left:1488.85px;top:918.00px;font-size:21.5px;color:#f7f3ee;font-weight:700;transform:scaleX(0.7488);-webkit-text-stroke:0.21px #0a0809;">%</div>
<div class="t" id="t116" style="left:1677.69px;top:918.00px;font-size:21.5px;color:#f7f3ee;font-weight:700;letter-spacing:0.592px;-webkit-text-stroke:0.21px #0a0809;">8.8</div>
<div class="t" id="t117" style="left:1713.35px;top:918.00px;font-size:21.5px;color:#f7f3ee;font-weight:700;transform:scaleX(0.7488);-webkit-text-stroke:0.21px #0a0809;">%</div>
<div class="t" id="t118" style="left:964.00px;top:1008.12px;font-size:12.5px;color:#8c807a;font-weight:400;letter-spacing:0.171px;-webkit-text-stroke:0.56px #8c807a;">Sources: Akashic Edge elections database · PL 94-171 (2020) · ACS 5-yr B04006</div>
<div class="t" id="t119" style="left:964.00px;top:1029.02px;font-size:12.5px;color:#a89b94;font-weight:400;letter-spacing:0.750px;transform:scaleX(1.0331);-webkit-text-stroke:0.56px #a89b94;">akashicedge.com/state-senate/sc-sd-39</div>
<div class="t" id="t120" style="left:307.49px;top:928.44px;font-size:17.2px;color:#b8aca4;font-weight:400;letter-spacing:0.284px;-webkit-text-stroke:0.77px #b8aca4;">2024 ·</div>
<div class="t" id="t121" style="left:362.28px;top:928.44px;font-size:17.2px;color:#b8aca4;font-weight:400;letter-spacing:0.096px;-webkit-text-stroke:0.77px #b8aca4;">Trump R +4.0 ·</div>
<div class="t" id="t122" style="left:481.08px;top:928.44px;font-size:17.2px;color:#b8aca4;font-weight:400;letter-spacing:-0.176px;word-spacing:-0.429px;-webkit-text-stroke:0.77px #b8aca4;">Dem 47.4 % ·</div>
<div class="t" id="t123" style="left:585.64px;top:928.44px;font-size:17.2px;color:#b8aca4;font-weight:400;letter-spacing:-0.516px;word-spacing:-1.032px;transform:scaleX(0.9910);-webkit-text-stroke:0.77px #b8aca4;">Rep 51.4 %</div>
</body></html>
